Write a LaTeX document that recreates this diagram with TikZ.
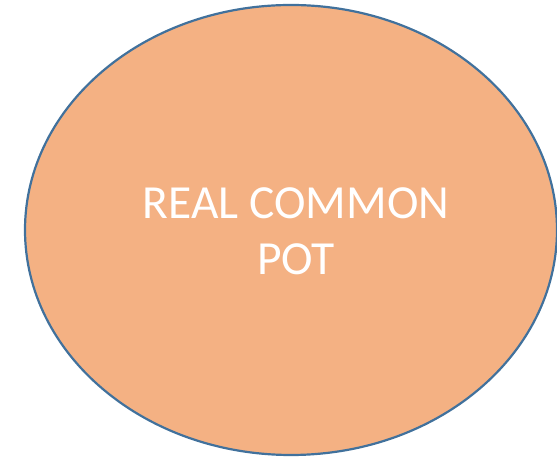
\documentclass[tikz,border=0pt]{standalone}
\usepackage{fontspec}
\setmainfont{Carlito}
\usetikzlibrary{shapes.geometric}
\definecolor{potfill}{HTML}{F4B183}
\definecolor{potline}{HTML}{41719C}

\begin{document}
\begin{tikzpicture}[x=1pt,y=1pt]
\useasboundingbox (0,0) rectangle (557,457);
\draw [potline, line width=2.2pt, fill=potfill] (291,227) ellipse [x radius=266, y radius=225];
\node [text=white, font=\fontsize{47.5}{56}\selectfont, align=center] (pot) at (296,226) {REAL COMMON\\POT};
\end{tikzpicture}
\end{document}
